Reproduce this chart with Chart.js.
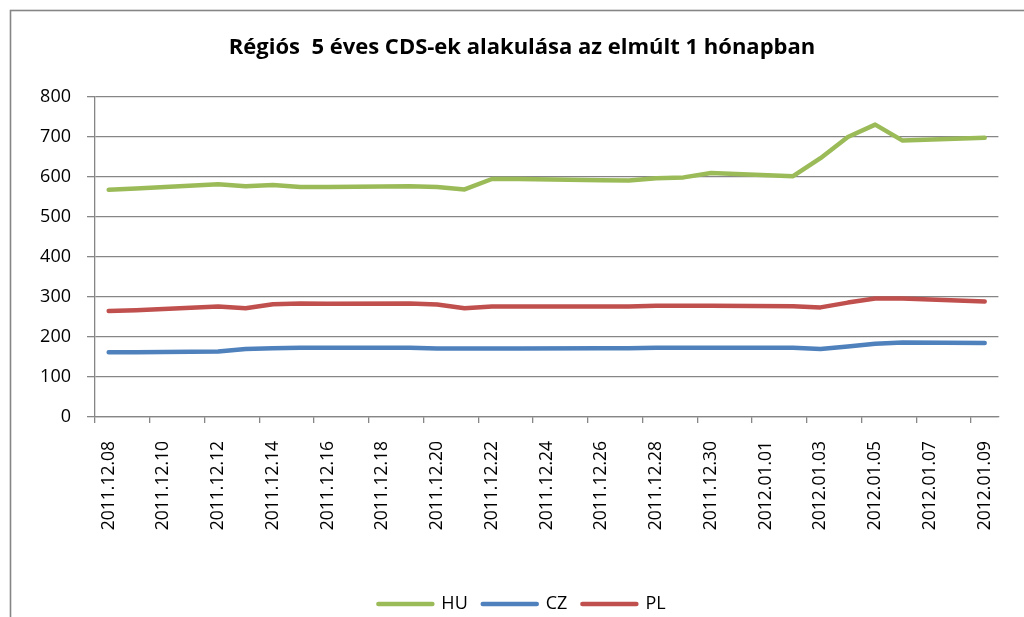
<!DOCTYPE html>
<html>
<head>
<meta charset="utf-8">
<script src="https://cdn.jsdelivr.net/npm/chart.js@4.4.0/dist/chart.umd.min.js"></script>
<style>
  body { margin: 0; background: #fff; }
  #wrap { position: relative; width: 1024px; height: 617px; }
</style>
</head>
<body>
<div id="wrap"><canvas id="cds-chart"></canvas></div>
<script>
// dates (weekends have no quote -> null, the line spans across them)
const dates = ['2011.12.08', '2011.12.09', '2011.12.10', '2011.12.11', '2011.12.12', '2011.12.13', '2011.12.14',
  '2011.12.15', '2011.12.16', '2011.12.17', '2011.12.18', '2011.12.19', '2011.12.20', '2011.12.21',
  '2011.12.22', '2011.12.23', '2011.12.24', '2011.12.25', '2011.12.26', '2011.12.27', '2011.12.28',
  '2011.12.29', '2011.12.30', '2011.12.31', '2012.01.01', '2012.01.02', '2012.01.03', '2012.01.04',
  '2012.01.05', '2012.01.06', '2012.01.07', '2012.01.08', '2012.01.09'];

const hu = [568, 571, null, null, 582, 577, 580, 575, 575, null, null, 577, 575, 569, 595, 595, null, null,
  592, 591, 597, 599, 610, null, null, 602, 647, 700, 731, 691, null, null, 698];
const cz = [162, 162, null, null, 164, 170, 172, 173, 173, null, null, 173, 171, 171, 171, 171, null, null,
  172, 172, 173, 173, 173, null, null, 173, 170, 176, 183, 186, null, null, 185];
const pl = [265, 267, null, null, 276, 272, 282, 284, 283, null, null, 284, 281, 272, 276, 276, null, null,
  276, 276, 278, 278, 278, null, null, 277, 274, 286, 296, 296, null, null, 289];

const yTicks = [0, 100, 200, 300, 400, 500, 600, 700, 800];

const gridGray = '#868686';
const font = 'Open Sans';
const lineW = 4.5;

function series(label, data, color) {
  return {
    label: label,
    data: data,
    borderColor: color,
    backgroundColor: color,
    borderWidth: lineW,
    borderCapStyle: 'round',
    borderJoinStyle: 'round',
    pointRadius: 0,
    pointHoverRadius: 0,
    pointBorderWidth: lineW,
    tension: 0,
    spanGaps: true
  };
}

// outer chart frame like the Excel chart object
const framePlugin = {
  id: 'frame',
  beforeDraw(chart) {
    const c = chart.ctx;
    c.save();
    c.strokeStyle = gridGray;
    c.lineWidth = 1.6;
    c.strokeRect(10.5, 10.5, 1200, 800);
    c.restore();
  }
};

const ctx = document.getElementById('cds-chart').getContext('2d');
const chart = new Chart(ctx, {
  type: 'line',
  data: {
    labels: dates,
    datasets: [
      series('HU', hu, '#9BBB59'),
      series('CZ', cz, '#4F81BD'),
      series('PL', pl, '#C0504D')
    ]
  },
  options: {
    responsive: true,
    maintainAspectRatio: false,
    animation: false,
    layout: { padding: { left: 39, right: 19, top: 0, bottom: -6 } },
    plugins: {
      title: {
        display: true,
        text: 'Régiós  5 éves CDS-ek alakulása az elmúlt 1 hónapban',
        color: '#000',
        font: { family: font, size: 22, weight: 'bold' },
        padding: { top: 35, bottom: 35.6 }
      },
      legend: {
        position: 'bottom',
        labels: {
          color: '#000',
          font: { family: font, size: 18 },
          usePointStyle: true,
          pointStyle: 'line',
          pointStyleWidth: 54,
          padding: 15,
          generateLabels(c) {
            const items = Chart.defaults.plugins.legend.labels.generateLabels(c);
            items.forEach(it => { it.lineWidth = lineW; it.lineCap = 'round'; });
            return items;
          }
        }
      },
      tooltip: { enabled: false }
    },
    scales: {
      x: {
        offset: true,
        afterFit(scale) { scale.height = 163; },
        grid: {
          offset: true,
          drawOnChartArea: false,
          tickLength: 6,
          lineWidth: 1.3,
          color: (c) => (c.index % 2 === 0 ? gridGray : 'rgba(0,0,0,0)')
        },
        border: { color: gridGray, width: 1.3 },
        ticks: {
          autoSkip: false,
          minRotation: 90,
          maxRotation: 90,
          padding: 18,
          color: '#000',
          font: { family: font, size: 17.5 },
          callback: function (val, i) { return i % 2 === 0 ? this.getLabelForValue(val) : ''; }
        }
      },
      y: {
        min: 0,
        max: 800,
        afterFit(scale) { scale.width = 56; },
        afterBuildTicks(scale) { scale.ticks = yTicks.map(v => ({ value: v })); },
        grid: { color: gridGray, lineWidth: 1.3, tickLength: 8 },
        border: { color: gridGray, width: 1.3 },
        ticks: {
          padding: 16,
          color: '#000',
          font: { family: font, size: 18 }
        }
      }
    }
  },
  plugins: [framePlugin]
});
</script>
</body>
</html>
